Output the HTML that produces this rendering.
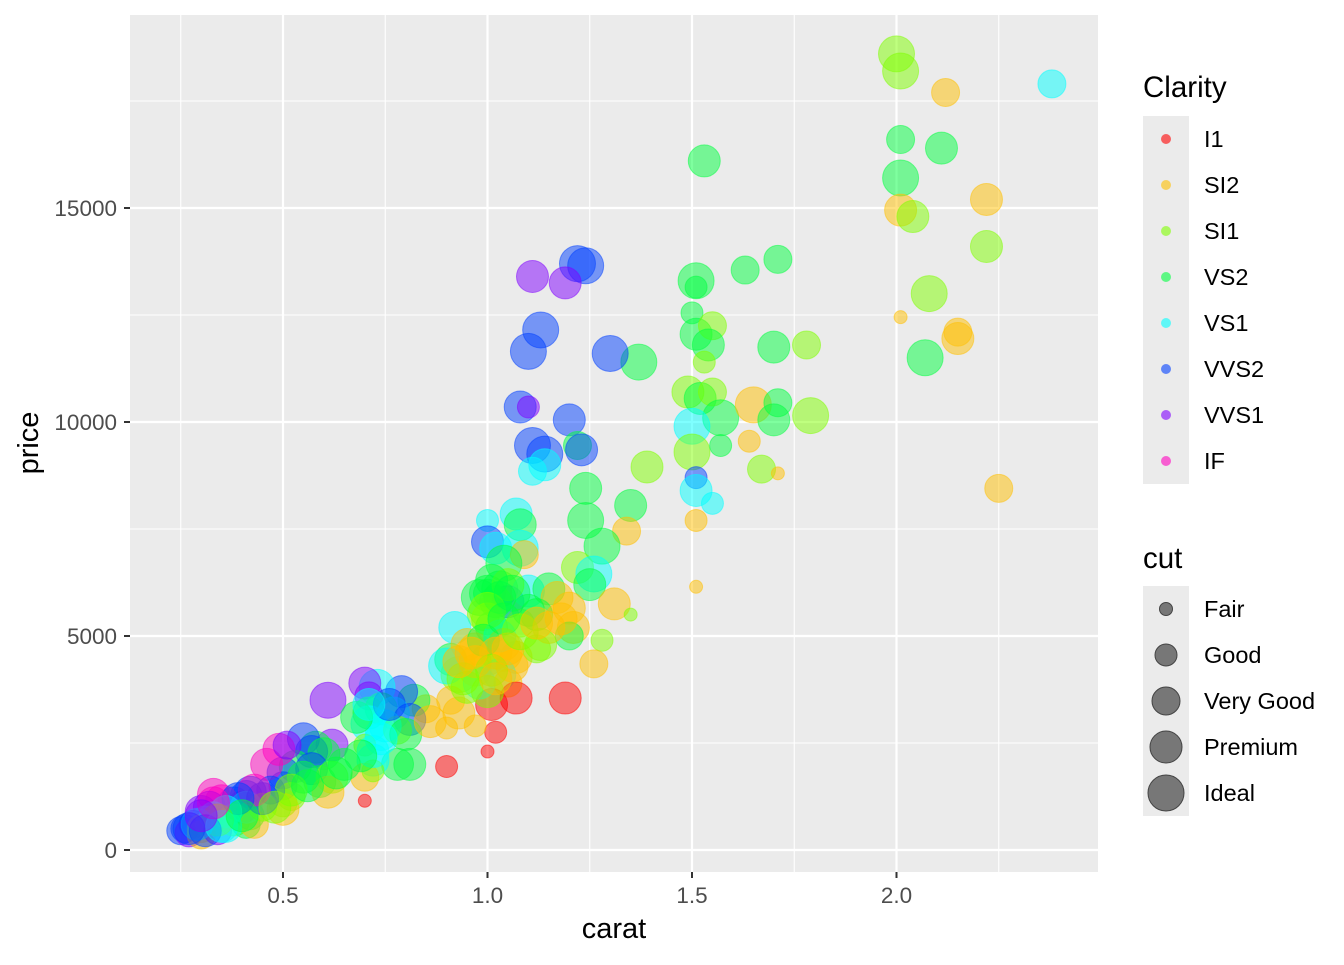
<!DOCTYPE html>
<html><head><meta charset="utf-8"><style>
body{margin:0;background:#fff;}
svg text{font-family:"Liberation Sans",Arial,sans-serif;}
</style></head><body>
<svg id="chart" width="1344" height="960" xmlns="http://www.w3.org/2000/svg">
<rect x="130" y="15" width="968" height="857" fill="#ebebeb"/>
<g id="grid"></g>
<g id="points"></g>
<g id="axes"></g>
<text x="614" y="938" font-size="29" text-anchor="middle" fill="#000">carat</text>
<text transform="translate(38,443) rotate(-90)" font-size="29" text-anchor="middle" fill="#000">price</text>
<g id="legend"></g>
</svg>
<script>
const xTicks=[0.5,1.0,1.5,2.0];
const xTickLabels=["0.5","1.0","1.5","2.0"];
const xMinor=[0.25,0.75,1.25,1.75,2.25];
const yTicks=[0,5000,10000,15000];
const yTickLabels=["0","5000","10000","15000"];
const yMinor=[2500,7500,12500,17500];
const clarityLevels=["I1","SI2","SI1","VS2","VS1","VVS2","VVS1","IF"];
const cutLevels=["Fair","Good","Very Good","Premium","Ideal"];
const clarityColors=["#FF0000","#FFBF00","#80FF00","#00FF40","#00FFFF","#0040FF","#8000FF","#FF00BF"];
const cutRadius=[6.5,11,14,16,18];
const carats=[2.00,2.01,2.12,2.38,2.01,2.11,1.53,2.01,2.22,2.01,2.04,2.22,2.08,2.01,2.15,2.15,2.07,2.25,1.51,1.51,1.63,1.71,1.50,1.51,1.55,1.54,1.53,1.70,1.78,1.49,1.52,1.55,1.57,1.65,1.71,1.70,1.79,1.50,1.50,1.57,1.64,1.67,1.71,1.51,1.51,1.55,1.51,1.51,1.39,1.37,1.30,1.35,1.34,1.24,1.24,1.28,1.22,1.26,1.25,1.31,1.35,1.28,1.26,1.19,1.22,1.24,1.19,1.11,1.13,1.10,1.08,1.10,1.20,1.11,1.14,1.14,1.22,1.23,1.11,1.00,1.07,1.08,1.00,1.02,1.08,1.09,1.04,1.00,1.03,1.05,1.10,1.15,1.17,1.20,1.21,1.20,0.99,1.01,1.08,1.12,0.92,0.91,0.97,1.00,1.04,1.07,1.12,0.93,0.97,1.03,1.05,0.91,0.93,1.01,1.07,1.02,1.00,0.90,0.97,0.90,0.70,0.85,0.82,0.79,0.73,0.70,0.71,0.61,0.74,0.71,0.77,0.81,0.71,0.74,0.78,0.70,0.78,0.81,0.72,0.70,0.72,0.62,0.58,0.55,0.57,0.60,0.53,0.57,0.59,0.62,0.61,0.50,0.50,0.46,0.49,0.51,0.50,0.52,0.50,0.47,0.41,0.42,0.40,0.38,0.35,0.33,0.32,0.30,0.31,0.28,0.26,0.25,0.27,0.32,0.30,0.30,0.34,0.33,0.38,0.41,0.42,0.41,0.43,0.45,0.36,
1.00,1.02,0.98,1.05,1.00,1.03,0.95,1.06,0.98,1.04,0.90,0.95,1.10,1.15,1.13,0.75,0.68,0.76,0.72,0.65,0.55,0.52,0.45,0.43,0.39,0.36,0.34,0.29,0.27,0.31,0.35,0.40,0.48,0.56,0.63,0.80,0.86,1.01,1.03,1.00,0.99,1.04,1.06,1.02,0.97,1.01,1.05,0.94,0.93,1.00,1.08,0.96,1.02,1.12,1.18,0.74,0.71,0.69,0.33,0.30];
const prices=[18600,18200,17700,17900,16600,16400,16100,15700,15200,14950,14800,14100,13000,12450,12100,11950,11500,8450,13300,13150,13550,13800,12550,12050,12250,11800,11400,11750,11800,10700,10550,10700,10100,10400,10450,10050,10150,9900,9300,9450,9550,8900,8800,8700,8400,8100,7700,6150,8950,11400,11600,8050,7450,8450,7700,7100,6600,6450,6200,5750,5500,4900,4350,3550,13700,13650,13250,13400,12150,11650,10350,10350,10050,9450,9250,9000,9450,9350,8850,7700,7850,7600,7200,7050,7050,6900,6700,6000,6100,5800,6050,6100,5900,5650,5200,5000,5500,5200,5300,5500,5200,4450,4700,4450,4600,4500,4700,4100,4200,4100,3900,3500,3200,3400,3550,2750,2300,2850,2900,1950,1150,3300,3500,3700,3800,3900,3600,3500,3300,3200,3200,3050,2950,2700,2800,2450,2000,2000,2100,1700,1850,2450,2400,2600,2300,2250,1950,1900,1600,1700,1350,1800,1500,2000,2350,2450,1100,1250,950,1400,1250,1350,1000,1100,1150,1300,1000,900,700,600,500,450,400,600,500,350,450,800,700,600,800,1000,600,1000,550,
6000,5800,5900,6200,5400,5000,4800,4300,3900,4800,4300,3800,5600,5200,4800,2900,3100,3400,2300,2000,1700,1400,1200,1400,1200,900,700,600,500,450,550,800,1000,1500,1800,2700,3000,6300,5900,5600,4900,5400,6000,4600,4400,4200,4700,4000,4400,3700,5100,4600,4000,5300,5400,2600,3400,2200,1100,800];
const clarity=[2,2,1,4,3,3,3,3,1,1,2,2,2,1,1,1,3,1,3,3,3,3,3,3,2,3,2,3,2,2,3,2,3,1,3,3,2,4,2,3,1,2,1,5,4,4,1,1,2,3,5,3,1,3,3,3,2,4,3,1,2,2,1,0,5,5,6,6,5,5,5,6,5,5,5,4,3,5,4,4,4,3,5,4,4,1,3,3,3,5,4,3,1,1,1,3,2,3,2,3,4,3,1,1,1,1,2,2,1,4,1,1,1,0,0,0,0,1,1,0,0,1,3,5,4,6,6,6,3,3,4,5,4,4,2,2,3,3,4,1,2,6,3,5,5,3,3,5,3,2,1,5,5,7,7,6,2,2,1,5,5,5,5,5,7,7,6,6,4,5,5,5,6,4,1,1,6,4,2,3,3,4,1,2,4,
3,3,3,2,2,4,1,1,4,1,4,2,3,1,2,4,3,5,4,3,3,2,5,7,5,4,2,4,5,5,4,3,2,3,3,3,1,3,3,2,3,3,3,1,1,2,1,2,1,2,2,1,1,1,1,4,4,3,7,6];
const cut=[4,4,2,2,2,3,3,4,3,3,3,3,4,0,2,3,4,2,4,1,2,2,1,3,2,3,1,3,2,3,3,2,4,4,2,3,4,4,4,1,1,2,0,1,3,1,1,0,3,4,4,3,2,3,4,4,3,4,3,3,0,1,2,3,4,4,3,3,4,4,3,1,3,4,4,3,2,3,2,1,3,3,3,3,4,2,4,4,4,3,3,3,3,3,3,2,3,3,2,3,3,3,3,3,4,3,2,4,3,3,2,2,3,3,3,1,0,1,1,1,0,2,3,3,4,3,2,4,3,3,3,3,4,3,2,1,3,3,3,2,1,3,3,3,3,3,3,3,3,3,3,3,2,3,3,2,2,2,3,2,3,3,3,3,3,3,3,3,2,2,2,2,2,2,2,2,2,2,3,2,2,3,2,2,3,2,
3,4,3,3,3,3,3,3,3,4,3,3,3,3,3,3,3,3,3,3,3,3,3,3,3,3,3,3,3,3,3,3,3,3,3,3,3,3,4,3,3,4,3,3,3,3,3,3,3,4,3,3,3,3,3,3,3,3,3,3];

const NS="http://www.w3.org/2000/svg";
const X0=130,X1=1098,Y0=15,Y1=872;
function xs(v){return 283+(v-0.5)*409;}
function ys(v){return 850-v*0.0428;}
function mk(tag,attrs,parent){const e=document.createElementNS(NS,tag);for(const k in attrs)e.setAttribute(k,attrs[k]);parent.appendChild(e);return e;}
const grid=document.getElementById('grid');
xMinor.forEach(v=>{const l=mk('line',{x1:xs(v),x2:xs(v),y1:Y0,y2:Y1,stroke:'#fff','stroke-width':1.1},grid);

});
yMinor.forEach(v=>{const l=mk('line',{x1:X0,x2:X1,y1:ys(v),y2:ys(v),stroke:'#fff','stroke-width':1.1},grid);

});
xTicks.forEach(v=>{const l=mk('line',{x1:xs(v),x2:xs(v),y1:Y0,y2:Y1,stroke:'#fff','stroke-width':2.2},grid);

});
yTicks.forEach(v=>{const l=mk('line',{x1:X0,x2:X1,y1:ys(v),y2:ys(v),stroke:'#fff','stroke-width':2.2},grid);

});
const pts=document.getElementById('points');
for(let i=0;i<carats.length;i++){
 const col=clarityColors[clarity[i]];
 const c=mk('circle',{cx:xs(carats[i]),cy:ys(prices[i]),r:cutRadius[cut[i]],fill:col,'fill-opacity':0.5,stroke:col,'stroke-opacity':0.5,'stroke-width':1},pts);
 
 
}
const ax=document.getElementById('axes');
xTicks.forEach((v,i)=>{
 const t=mk('line',{x1:xs(v),x2:xs(v),y1:Y1,y2:Y1+6,stroke:'#333','stroke-width':2},ax);
 
 
 const l=mk('text',{x:xs(v),y:903,'font-size':22.5,'text-anchor':'middle',fill:'#4d4d4d'},ax);l.textContent=xTickLabels[i];
 
 
});
yTicks.forEach((v,i)=>{
 const t=mk('line',{x1:X0-6,x2:X0,y1:ys(v),y2:ys(v),stroke:'#333','stroke-width':2},ax);
 
 
 const l=mk('text',{x:117,y:ys(v)+8,'font-size':22.5,'text-anchor':'end',fill:'#4d4d4d'},ax);l.textContent=yTickLabels[i];
 
 
});
const lg=document.getElementById('legend');
let t=mk('text',{x:1143,y:97,'font-size':29.5,fill:'#000'},lg);t.textContent='Clarity';


let b=mk('rect',{x:1143,y:116,width:46,height:368,fill:'#ebebeb'},lg);


clarityLevels.forEach((n,i)=>{
 const cy=139+i*46;
 const c=mk('circle',{cx:1166,cy:cy,r:5,fill:clarityColors[i],'fill-opacity':0.6},lg);
 
 
 const l=mk('text',{x:1204,y:cy+8,'font-size':23.5,fill:'#000'},lg);l.textContent=n;
 
 
});
t=mk('text',{x:1143,y:568,'font-size':29.5,fill:'#000'},lg);t.textContent='cut';


b=mk('rect',{x:1143,y:586,width:46,height:230,fill:'#ebebeb'},lg);


const legR=[6.5,11,14,16,18];
cutLevels.forEach((n,i)=>{
 const cy=609+i*46;
 const c=mk('circle',{cx:1166,cy:cy,r:legR[i],fill:'#777',stroke:'#444','stroke-width':1},lg);
 
 
 const l=mk('text',{x:1204,y:cy+8,'font-size':23.5,fill:'#000'},lg);l.textContent=n;
 
 
});
</script>
</body></html>
